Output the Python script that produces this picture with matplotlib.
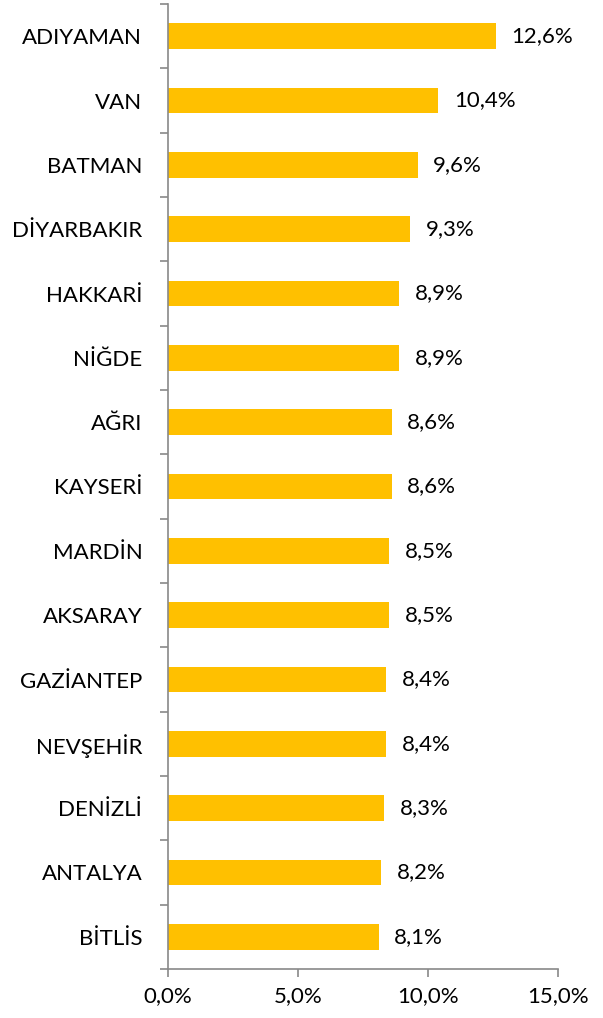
import matplotlib
matplotlib.use("Agg")
import matplotlib.pyplot as plt
from matplotlib.ticker import FuncFormatter

categories = ["ADIYAMAN", "VAN", "BATMAN", "DİYARBAKIR", "HAKKARİ", "NİĞDE", "AĞRI",
              "KAYSERİ", "MARDİN", "AKSARAY", "GAZİANTEP", "NEVŞEHİR", "DENİZLİ",
              "ANTALYA", "BİTLİS"]
values = [12.6, 10.4, 9.6, 9.3, 8.9, 8.9, 8.6, 8.6, 8.5, 8.5, 8.4, 8.4, 8.3, 8.2, 8.1]
xticks = [0, 5, 10, 15]

plt.rcParams['font.family'] = ['Lato', 'DejaVu Sans']
FS = 16

fig = plt.figure(figsize=(6.03, 10.18), dpi=100)
ax = fig.add_axes([168/603, 1-969/1018, (558-168)/603, (969-4)/1018])

y = list(range(len(categories)))
ax.barh(y, values, height=0.4, color="#FFC000")
ax.set_ylim(len(categories)-0.5, -0.5)
ax.set_xlim(0, 15)
ax.set_yticks([i - 0.5 for i in range(len(categories)+1)])
ax.set_yticklabels([])
ax.set_yticks(y, minor=True)
ax.set_yticklabels(categories, minor=True, fontsize=FS)
ax.tick_params(axis='y', which='minor', length=0, pad=18.5)
ax.tick_params(axis='y', which='major', length=6, color="#898989", width=1.2)
ax.set_xticks(xticks)
ax.xaxis.set_major_formatter(FuncFormatter(lambda v, p: f"{v:.1f}%".replace(".", ",")))
ax.tick_params(axis='x', length=6, color="#898989", width=1.2, labelsize=FS, pad=6)

for s in ["top", "right"]:
    ax.spines[s].set_visible(False)
for s in ["left", "bottom"]:
    ax.spines[s].set_color("#898989")
    ax.spines[s].set_linewidth(1.2)

for i, v in enumerate(values):
    ax.text(v + 0.6, i, f"{v:.1f}%".replace(".", ","), va="center", ha="left", fontsize=FS)

fig.savefig("out.png", dpi=100)
